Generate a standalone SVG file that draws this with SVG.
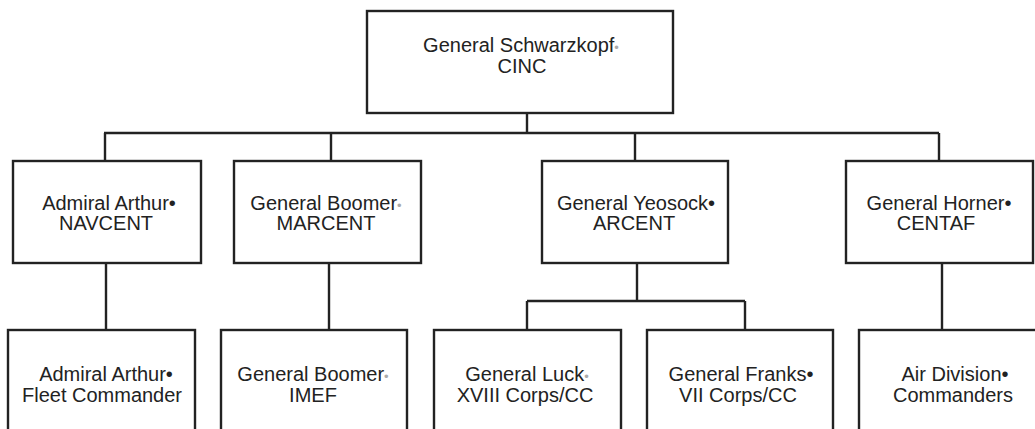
<svg xmlns="http://www.w3.org/2000/svg" width="1035" height="429" viewBox="0 0 1035 429">
<style>
.box{fill:#fff;stroke:#222;stroke-width:2.4}
.ln{fill:none;stroke:#222;stroke-width:2.4}
text{font-family:"Liberation Sans",Arial,Helvetica,sans-serif;font-size:20px;fill:#222;text-anchor:middle}
.f{fill:#aaa;font-size:13px}
</style>
<rect width="1035" height="429" fill="#fff"/>
<g id="connectors">
<path class="ln" d="M527 113V133M104 133H939M105 133V161M331 133V161M635 133V161M939 133V161"/>
<path class="ln" d="M106 263V330M329 263V330M942 263V330"/>
<path class="ln" d="M637 263V301M527 301H745M527 301V330M745 301V330"/>
</g>
<g id="cinc">
<rect class="box" x="367" y="11" width="306" height="102"/>
<text x="521" y="52">General Schwarzkopf<tspan class="f">•</tspan></text>
<text x="522" y="73">CINC</text>
</g>
<g id="navcent">
<rect class="box" x="13" y="161" width="188" height="102"/>
<text x="109" y="210">Admiral Arthur•</text>
<text x="106" y="230">NAVCENT</text>
</g>
<g id="marcent">
<rect class="box" x="234" y="161" width="187" height="102"/>
<text x="326" y="210">General Boomer<tspan class="f">•</tspan></text>
<text x="326" y="230">MARCENT</text>
</g>
<g id="arcent">
<rect class="box" x="542" y="161" width="186" height="102"/>
<text x="636" y="210">General Yeosock•</text>
<text x="634" y="230">ARCENT</text>
</g>
<g id="centaf">
<rect class="box" x="846" y="161" width="187" height="102"/>
<text x="939" y="210">General Horner•</text>
<text x="936" y="230">CENTAF</text>
</g>
<g id="fleet">
<rect class="box" x="8" y="330" width="187" height="110"/>
<text x="106" y="381">Admiral Arthur•</text>
<text x="102" y="402">Fleet Commander</text>
</g>
<g id="imef">
<rect class="box" x="221" y="330" width="186" height="110"/>
<text x="313" y="381">General Boomer<tspan class="f">•</tspan></text>
<text x="313" y="402">IMEF</text>
</g>
<g id="luck">
<rect class="box" x="434" y="330" width="187" height="110"/>
<text x="527" y="381">General Luck<tspan class="f">•</tspan></text>
<text x="525" y="402">XVIII Corps/CC</text>
</g>
<g id="franks">
<rect class="box" x="647" y="330" width="186" height="110"/>
<text x="741" y="381">General Franks•</text>
<text x="738" y="402">VII Corps/CC</text>
</g>
<g id="airdiv">
<rect class="box" x="859" y="330" width="187" height="110"/>
<text x="955" y="381">Air Division•</text>
<text x="953" y="402">Commanders</text>
</g>
</svg>
